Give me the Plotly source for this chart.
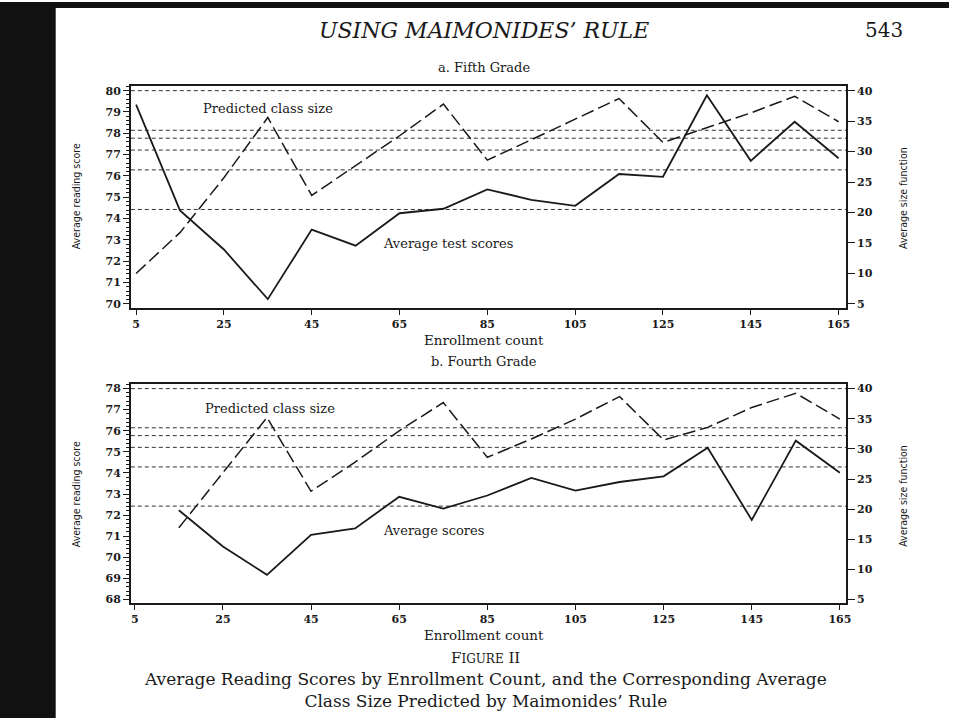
import plotly.graph_objects as go

# ---------------- data ----------------
enroll5 = [5, 15, 25, 35, 45, 55, 65, 75, 85, 95, 105, 115, 125, 135, 145, 155, 165]
score5 = [79.35, 74.38, 72.55, 70.22, 73.48, 72.73, 74.25, 74.46, 75.37, 74.88,
          74.6, 76.09, 75.96, 79.78, 76.71, 78.54, 76.83]
size5 = [10.0, 16.7, 25.7, 35.6, 22.8, 27.7, 32.6, 37.8, 28.6, 31.95,
         35.3, 38.7, 31.5, 33.9, 36.35, 39.07, 34.9]

enroll4 = [15, 25, 35, 45, 55, 65, 75, 85, 95, 105, 115, 125, 135, 145, 155, 165]
score4 = [72.23, 70.51, 69.17, 71.06, 71.37, 72.87, 72.31, 72.93, 73.76, 73.16,
          73.57, 73.84, 75.19, 71.77, 75.53, 74.01]
size4 = [16.9, 26.0, 35.2, 22.96, 27.8, 33.0, 37.69, 28.6, 31.64, 34.94,
         38.68, 31.48, 33.57, 36.87, 39.23, 34.94]

# Maimonides' rule reference class sizes (41/2, 81/3, 121/4, 161/5, 201/6, 40)
ref_levels = [20.5, 27.0, 30.25, 32.2, 33.5, 40.0]

x_ticks = [5, 25, 45, 65, 85, 105, 125, 145, 165]
left_ticks_a = list(range(70, 81))
left_ticks_b = list(range(68, 79))
right_ticks = [5, 10, 15, 20, 25, 30, 35, 40]

# ---------------- styling ----------------
W, H = 954, 721
SERIF = "DejaVu Serif, Liberation Serif, serif"
NARROW = "DejaVu Sans Condensed, Liberation Sans Narrow, Arial Narrow, sans-serif"
INK = "#1a1a1a"


def px(xp):
    return xp / W


def py(yp):
    return 1 - yp / H


fig = go.Figure()

line_solid = dict(color=INK, width=1.8)
line_dash = dict(color=INK, width=1.5, dash="13px,5px")

fig.add_trace(go.Scatter(x=enroll5, y=score5, mode="lines", line=line_solid,
                         xaxis="x", yaxis="y", showlegend=False))
fig.add_trace(go.Scatter(x=enroll5, y=size5, mode="lines", line=line_dash,
                         xaxis="x", yaxis="y2", showlegend=False))
fig.add_trace(go.Scatter(x=enroll4, y=score4, mode="lines", line=line_solid,
                         xaxis="x2", yaxis="y3", showlegend=False))
fig.add_trace(go.Scatter(x=enroll4, y=size4, mode="lines", line=line_dash,
                         xaxis="x2", yaxis="y4", showlegend=False))

shapes = []
# black scan border
shapes.append(dict(type="rect", xref="paper", yref="paper", x0=0, x1=px(56), y0=0, y1=1,
                   fillcolor="#111111", line=dict(width=0), layer="below"))
shapes.append(dict(type="rect", xref="paper", yref="paper", x0=0, x1=1, y0=py(6), y1=1,
                   fillcolor="#111111", line=dict(width=0), layer="below"))
for lv in ref_levels:
    for xr, yr in (("x domain", "y2"), ("x2 domain", "y4")):
        shapes.append(dict(type="line", xref=xr, yref=yr, x0=0, x1=1, y0=lv, y1=lv,
                           line=dict(color="#333333", width=1, dash="4px,3px"), layer="below"))

axis_common = dict(showgrid=False, zeroline=False, showline=True, linecolor=INK,
                   linewidth=1.5, ticks="outside", tickcolor=INK,
                   tickfont=dict(family=SERIF, size=11, color=INK, weight="bold"))

xdom = [px(131.5), px(850.5)]
layout = dict(
    width=W, height=H, margin=dict(l=0, r=0, t=0, b=0),
    paper_bgcolor="white", plot_bgcolor="white", showlegend=False,
    xaxis=dict(axis_common, domain=xdom, range=[3.8, 166.7], tickvals=x_ticks,
               ticklen=5, mirror=True, anchor="y"),
    yaxis=dict(axis_common, domain=[py(308), py(85)], range=[69.81, 80.2],
               tickvals=left_ticks_a, ticklen=6, anchor="x",
               minor=dict(dtick=0.2, ticklen=3, tickcolor=INK, ticks="outside")),
    yaxis2=dict(axis_common, overlaying="y", side="right", anchor="x",
                range=[4.35, 40.7], tickvals=right_ticks, ticklen=7),
    xaxis2=dict(axis_common, domain=xdom, range=[4.1, 166.4], tickvals=x_ticks,
                ticklen=5, mirror=True, anchor="y3"),
    yaxis3=dict(axis_common, domain=[py(605.7), py(385)], range=[67.81, 78.2],
                tickvals=left_ticks_b, ticklen=6, anchor="x2",
                minor=dict(dtick=0.2, ticklen=3, tickcolor=INK, ticks="outside")),
    yaxis4=dict(axis_common, overlaying="y3", side="right", anchor="x2",
                range=[4.34, 40.71], tickvals=right_ticks, ticklen=7),
    shapes=shapes,
)
fig.update_layout(layout)

ann = []


def text(x, y, s, size, font=SERIF, angle=0, xref="paper", yref="paper", **kw):
    ann.append(dict(x=x, y=y, xref=xref, yref=yref, text=s, showarrow=False,
                    textangle=angle, xanchor="center", yanchor="middle",
                    font=dict(family=font, size=size, color=INK), **kw))


text(px(487), py(29), "<i>USING MAIMONIDES’ RULE</i>", 22)
text(px(889), py(28), "543", 20)
text(px(487), py(66), "a. Fifth Grade", 13)
text(px(487), py(340), "Enrollment count", 13.5)
text(px(487), py(362), "b. Fourth Grade", 13)
text(px(487), py(637), "Enrollment count", 13.5)

text(px(76), py(196), "Average reading score", 10.5, font=NARROW, angle=-90)
text(px(907), py(197), "Average size function", 10.5, font=NARROW, angle=-90)
text(px(76), py(496), "Average reading score", 10.5, font=NARROW, angle=-90)
text(px(907), py(497), "Average size function", 10.5, font=NARROW, angle=-90)

text(35.1, 79.18, "Predicted class size", 13, xref="x", yref="y")
text(76.1, 72.84, "Average test scores", 13, xref="x", yref="y")
text(35.7, 77.07, "Predicted class size", 13, xref="x2", yref="y3")
text(72.8, 71.28, "Average scores", 13, xref="x2", yref="y3")

text(px(488), py(661), "F<span style='font-size:12px'>IGURE</span> II", 15)
text(px(488), py(693),
     "Average Reading Scores by Enrollment Count, and the Corresponding Average"
     "<br>Class Size Predicted by Maimonides’ Rule", 17)

fig.update_layout(annotations=ann)
fig.write_html("out.html", config={"displayModeBar": False},
               post_script="document.body.style.margin='0px';document.body.style.padding='0px';")
